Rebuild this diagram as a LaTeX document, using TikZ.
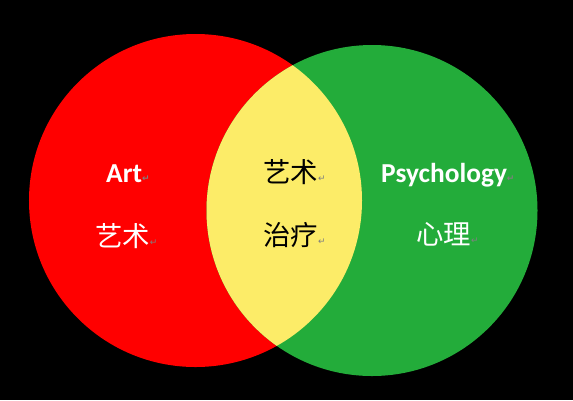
\documentclass[tikz,border=0pt]{standalone}
\usepackage{fontspec}
\setmainfont{Carlito}
\newfontfamily\cjk{Noto Sans CJK SC}
\newfontfamily\symb{DejaVu Sans}
\definecolor{vred}{RGB}{255,0,0}
\definecolor{vgreen}{RGB}{35,172,58}
\definecolor{vyellow}{RGB}{252,236,104}
\newcommand{\retmark}{{\symb\fontsize{9}{9}\selectfont\raisebox{1pt}{\textcolor{gray}{↵}}}}

\begin{document}
\begin{tikzpicture}[
  x=1bp, y=-1bp,
  en/.style={inner sep=0pt, font=\fontsize{27.5}{31}\selectfont\bfseries, anchor=base west},
  zh/.style={inner sep=0pt, font=\fontsize{27.5}{31}\selectfont\cjk, anchor=west},
  onred/.style={text=white},
  onmid/.style={text=black},
]

% --- background ---
\fill[black] (0,0) rectangle (573,400);
\useasboundingbox (0,0) rectangle (573,400);

% --- circles ---
\coordinate (cart) at (195.5,200.5);
\coordinate (cpsy) at (372,210.5);
\fill[vred] (cart) circle[radius=166.5bp];
\fill[vgreen] (cpsy) circle[radius=165.5bp];
\begin{scope}
\clip (cart) circle[radius=166.5bp];
\fill[vyellow] (cpsy) circle[radius=165.5bp];
\end{scope}

% --- labels ---
\node[en, onred] (art) at (106,182) {Art\retmark};
\node[zh, onred] (artzh) at (95,236) {艺术\retmark};

\node[zh, onmid] (mida) at (263,172) {艺术\retmark};
\node[zh, onmid] (midb) at (263,235) {治疗\retmark};

\node[en, onred] (psy) at (381,182) {Psychology\retmark};
\node[zh, onred] (psyzh) at (416,234) {心理\retmark};

\end{tikzpicture}
\end{document}
